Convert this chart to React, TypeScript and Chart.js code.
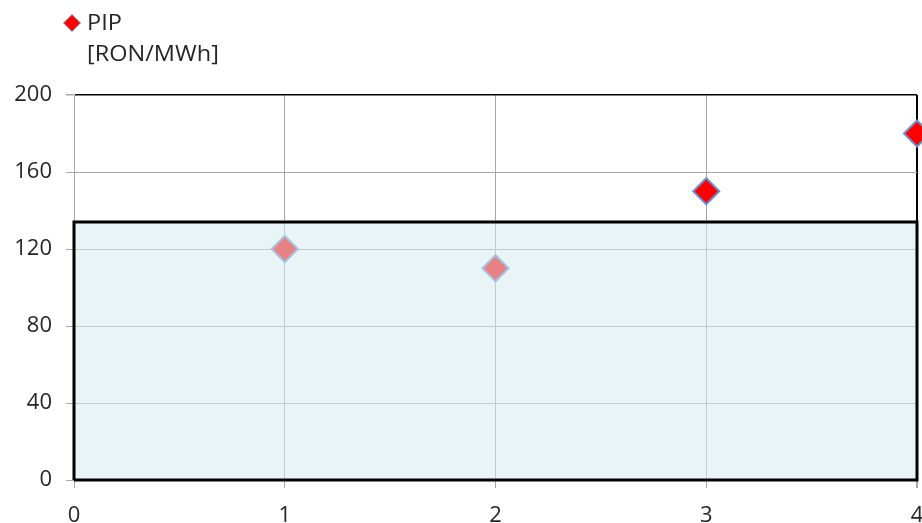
import React, { useEffect, useRef } from "react";
import { Chart, registerables } from "chart.js";

Chart.register(...registerables);

const seriesName = "PIP";
const unitLabel = "[RON/MWh]";
const xValues = [1, 2, 3, 4];
const pipValues = [120, 110, 150, 180];
const bandX = [0, 0, 4, 4, 0];
const bandY = [0, 134, 134, 0, 0];
const xMin = 0;
const xMax = 4;
const xStep = 1;
const yMin = 0;
const yMax = 200;
const yStep = 40;

const FONT = "'Open Sans', 'Noto Sans', sans-serif";
const GRID = "#a6a6a6";
const TEXT = "#262626";
const VIEW_W = 922;
const VIEW_H = 523;
const RIGHT_GAP = 5;

const legendPlugin = {
  id: "customLegend",
  afterDraw(chart: any) {
    const ctx = chart.ctx;
    ctx.save();
    const cx = 72, cy = 23, r = 8.5;
    ctx.beginPath();
    ctx.moveTo(cx, cy - r);
    ctx.lineTo(cx + r, cy);
    ctx.lineTo(cx, cy + r);
    ctx.lineTo(cx - r, cy);
    ctx.closePath();
    ctx.fillStyle = "#ff0000";
    ctx.fill();
    ctx.lineWidth = 1;
    ctx.strokeStyle = "#6f93cf";
    ctx.stroke();
    ctx.fillStyle = TEXT;
    ctx.font = `21px ${FONT}`;
    ctx.textBaseline = "alphabetic";
    ctx.textAlign = "left";
    ctx.translate(87, 0);
    ctx.scale(1.12, 1);
    ctx.fillText(seriesName, 0, 30);
    ctx.fillText(unitLabel, 0, 61);
    ctx.restore();
  },
};

export default function App() {
  const ref = useRef<HTMLCanvasElement>(null);
  useEffect(() => {
    const chart = new Chart(ref.current!, {
      type: "scatter",
      data: {
        datasets: [
          {
            label: seriesName,
            data: xValues.map((x, i) => ({ x, y: pipValues[i] })),
            pointStyle: "rectRot",
            pointRadius: 13,
            pointHoverRadius: 13,
            pointBackgroundColor: "#ff0000",
            pointBorderColor: "#6a8fcf",
            pointBorderWidth: 2,
            order: 2,
            clip: false,
          } as any,
          {
            type: "line",
            label: "bandFill",
            data: [
              { x: bandX[1], y: bandY[1] },
              { x: bandX[2], y: bandY[2] },
            ],
            showLine: true,
            fill: "origin",
            backgroundColor: "rgba(213,235,238,0.55)",
            borderWidth: 0,
            borderColor: "rgba(0,0,0,0)",
            pointRadius: 0,
            tension: 0,
            order: 1,
            clip: false,
          } as any,
          {
            type: "line",
            label: "bandBorder",
            data: bandX.map((x, i) => ({ x, y: bandY[i] })),
            showLine: true,
            fill: false,
            borderColor: "#000000",
            borderWidth: 3,
            pointRadius: 0,
            tension: 0,
            order: 0,
            clip: false,
          } as any,
        ],
      },
      options: {
        animation: false,
        responsive: false,
        maintainAspectRatio: false,
        layout: { padding: { top: 95, right: RIGHT_GAP, left: 0, bottom: 0 } },
        plugins: {
          legend: { display: false },
          tooltip: { enabled: false },
        },
        scales: {
          x: {
            type: "linear",
            min: xMin,
            max: xMax,
            ticks: {
              stepSize: xStep,
              padding: 15,
              color: TEXT,
              font: { family: FONT, size: 22 },
            },
            grid: {
              color: (c: any) => (c.tick && c.tick.value === xMax ? "#000" : GRID),
              lineWidth: (c: any) => (c.tick && c.tick.value === xMax ? 2 : 1),
              tickColor: GRID,
              tickLength: 8,
            },
            border: { display: false },
            afterFit: (s: any) => {
              s.height = 43;
            },
          },
          y: {
            type: "linear",
            min: yMin,
            max: yMax,
            ticks: {
              stepSize: yStep,
              padding: 14,
              color: TEXT,
              font: { family: FONT, size: 22 },
            },
            grid: {
              color: (c: any) => (c.tick && c.tick.value === yMax ? "#000" : GRID),
              lineWidth: (c: any) => (c.tick && c.tick.value === yMax ? 1.5 : 1),
              tickColor: GRID,
              tickLength: 8,
            },
            border: { display: true, color: GRID, width: 1 },
            afterFit: (s: any) => {
              s.width = 74;
            },
          },
        },
      },
      plugins: [legendPlugin],
    });
    const gap = chart.width - chart.chartArea.right;
    if (gap > RIGHT_GAP + 0.5) {
      chart.resize(VIEW_W + (gap - RIGHT_GAP), VIEW_H);
    }
    return () => chart.destroy();
  }, []);
  return (
    <div
      style={{
        position: "fixed",
        left: 0,
        top: 0,
        width: VIEW_W,
        height: VIEW_H,
        overflow: "hidden",
        background: "#fff",
      }}
    >
      <canvas ref={ref} width={VIEW_W} height={VIEW_H} />
    </div>
  );
}
